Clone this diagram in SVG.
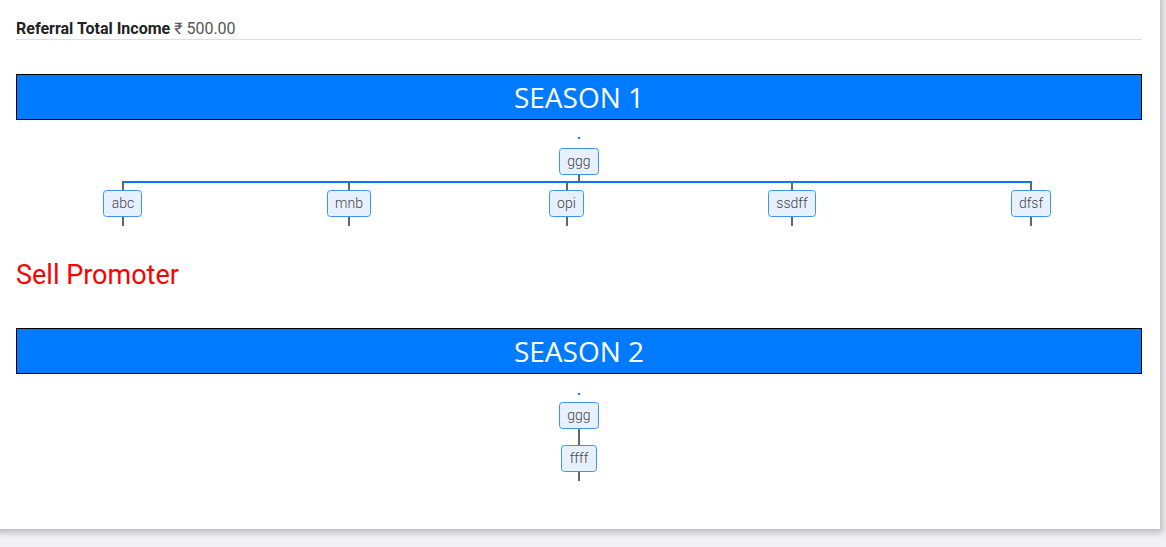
<svg xmlns="http://www.w3.org/2000/svg" width="1166" height="547" viewBox="0 0 1166 547">
<defs>
<filter id="sh" x="-5%" y="-5%" width="110%" height="115%">
<feDropShadow dx="3" dy="4" stdDeviation="3" flood-color="#000" flood-opacity="0.22"/>
</filter>
<style>
.node rect{fill:#e7f1fd;stroke:#3d94f6;stroke-width:1}
.node text{font-family:Roboto,"Liberation Sans",sans-serif;font-size:14px;font-weight:300;fill:#444;text-anchor:middle}
.bar{fill:#007bff;stroke:#000;stroke-width:1}
.bartxt{font-family:"Open Sans","Liberation Sans",sans-serif;font-size:28px;fill:#fff;text-anchor:middle}
.stub{stroke:#666;stroke-width:2;fill:none}
.hline{stroke:#007bff;stroke-width:2;fill:none}
</style>
</defs>
<rect x="0" y="0" width="1166" height="547" fill="#f2f2f6"/>
<rect x="-10" y="-10" width="1170" height="539" fill="#fff" filter="url(#sh)"/>
<text x="16" y="34" font-family="Roboto,'Liberation Sans',sans-serif" font-size="16px"><tspan font-weight="bold" fill="#222">Referral Total Income</tspan><tspan fill="#555"> ₹ 500.00</tspan></text>
<line x1="16" y1="39.5" x2="1142" y2="39.5" stroke="#dedede" stroke-width="1"/>
<g id="season1">
<rect class="bar" x="16.5" y="74.5" width="1125" height="45"/>
<text class="bartxt" x="579" y="108">SEASON 1</text>
</g>
<g id="connectors">
<rect x="578" y="137" width="2" height="2" fill="#007bff"/>
<line class="stub" x1="579" y1="174" x2="579" y2="182"/>
<line class="hline" x1="122" y1="182" x2="1032" y2="182"/>
<line class="stub" x1="123" y1="182" x2="123" y2="190"/>
<line class="stub" x1="349" y1="182" x2="349" y2="190"/>
<line class="stub" x1="567" y1="182" x2="567" y2="190"/>
<line class="stub" x1="792" y1="182" x2="792" y2="190"/>
<line class="stub" x1="1031" y1="182" x2="1031" y2="190"/>
<line class="stub" x1="123" y1="217" x2="123" y2="226"/>
<line class="stub" x1="349" y1="217" x2="349" y2="226"/>
<line class="stub" x1="567" y1="217" x2="567" y2="226"/>
<line class="stub" x1="792" y1="217" x2="792" y2="226"/>
<line class="stub" x1="1031" y1="217" x2="1031" y2="226"/>
<rect x="578" y="393" width="2" height="2" fill="#007bff"/>
<line class="stub" x1="579" y1="429" x2="579" y2="445"/>
<line class="stub" x1="579" y1="472" x2="579" y2="481"/>
</g>
<g id="n-ggg1" class="node"><rect x="559.5" y="148.5" width="39" height="26" rx="3"/><text x="579" y="166">ggg</text></g>
<g id="n-abc" class="node"><rect x="103.5" y="190.5" width="38" height="26" rx="3"/><text x="123" y="208">abc</text></g>
<g id="n-mnb" class="node"><rect x="327.5" y="190.5" width="43" height="26" rx="3"/><text x="349" y="208">mnb</text></g>
<g id="n-opi" class="node"><rect x="549.5" y="190.5" width="34" height="26" rx="3"/><text x="566.5" y="208">opi</text></g>
<g id="n-ssdff" class="node"><rect x="768.5" y="190.5" width="47" height="26" rx="3"/><text x="792" y="208">ssdff</text></g>
<g id="n-dfsf" class="node"><rect x="1011.5" y="190.5" width="39" height="26" rx="3"/><text x="1031" y="208">dfsf</text></g>
<text x="16" y="284" font-family="Roboto,'Liberation Sans',sans-serif" font-size="27px" fill="#ff0000">Sell Promoter</text>
<g id="season2">
<rect class="bar" x="16.5" y="328.5" width="1125" height="45"/>
<text class="bartxt" x="579" y="362">SEASON 2</text>
</g>
<g id="n-ggg2" class="node"><rect x="559.5" y="402.5" width="39" height="26" rx="3"/><text x="579" y="420">ggg</text></g>
<g id="n-ffff" class="node"><rect x="561.5" y="445.5" width="35" height="26" rx="3"/><text x="579" y="463">ffff</text></g>
</svg>
